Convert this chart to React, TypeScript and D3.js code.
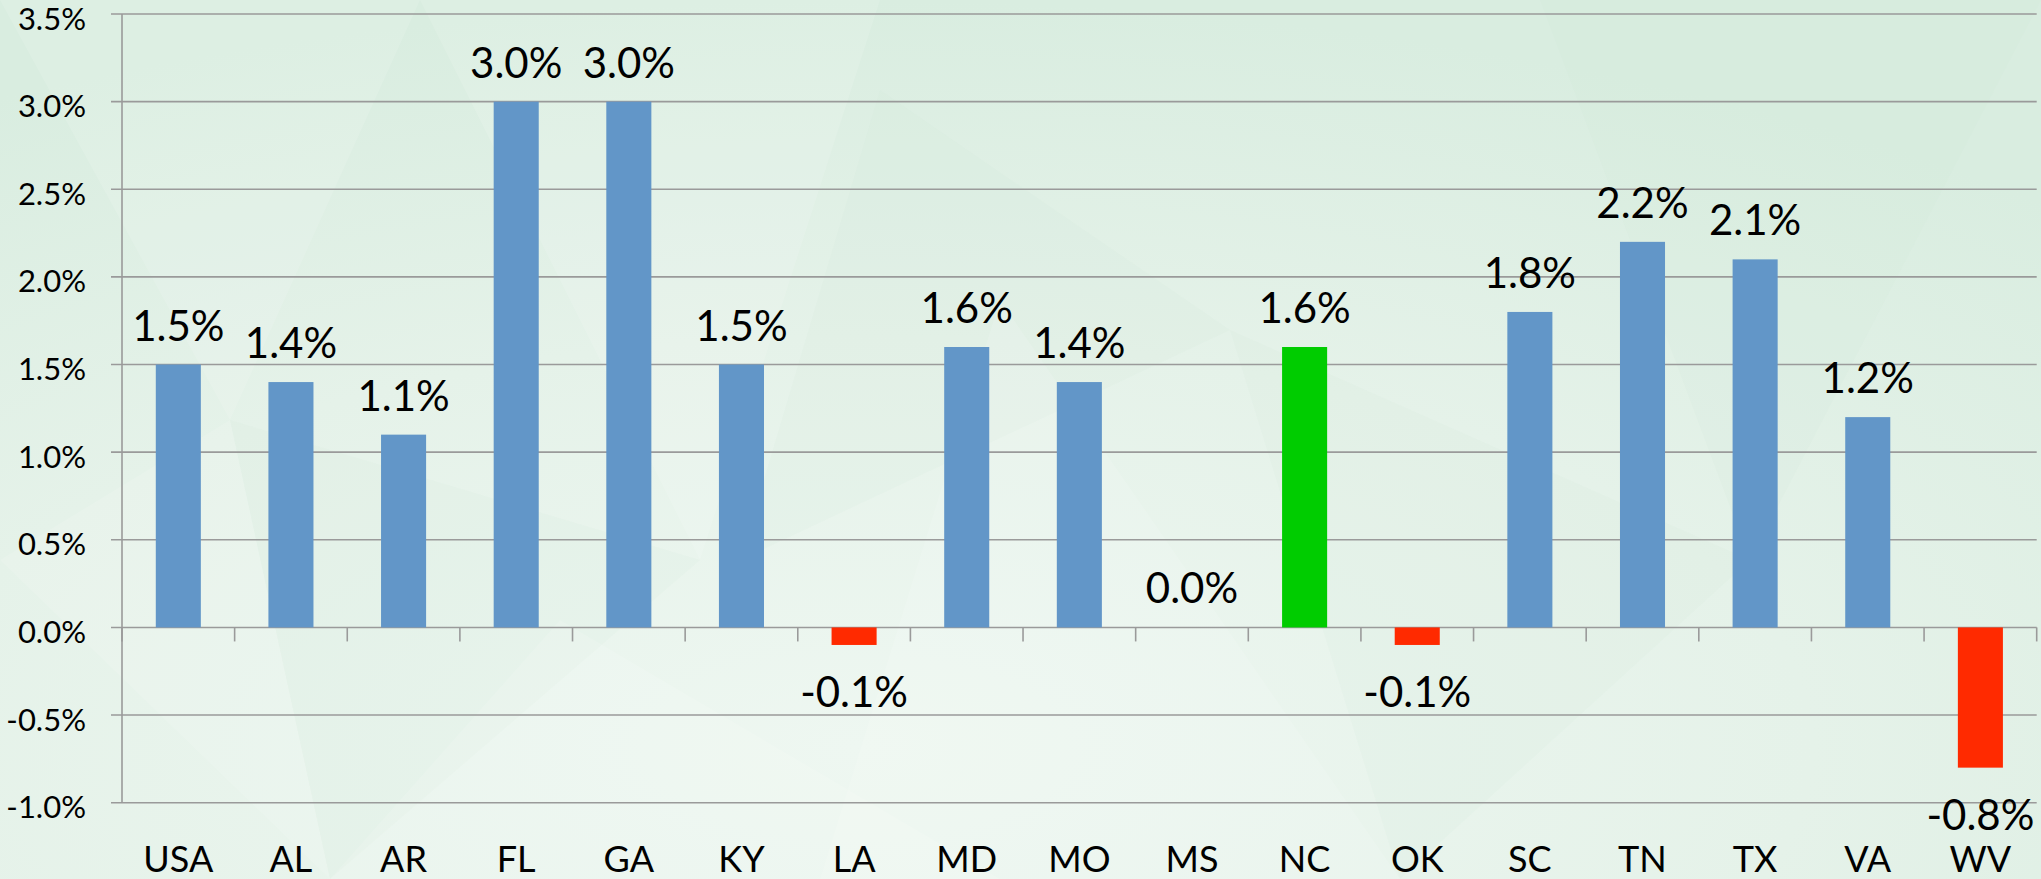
import React, { useEffect } from "react";
import * as d3 from "d3";

const categories = ["USA", "AL", "AR", "FL", "GA", "KY", "LA", "MD", "MO", "MS", "NC", "OK", "SC", "TN", "TX", "VA", "WV"];
const values = [1.5, 1.4, 1.1, 3.0, 3.0, 1.5, -0.1, 1.6, 1.4, 0.0, 1.6, -0.1, 1.8, 2.2, 2.1, 1.2, -0.8];
const highlight = ["NC"];
const yTicks = [-1.0, -0.5, 0.0, 0.5, 1.0, 1.5, 2.0, 2.5, 3.0, 3.5];

const W = 2041;
const H = 879;
const FONT = "Lato, 'Open Sans', 'DejaVu Sans', sans-serif";

export default function App() {
  useEffect(() => {
    document.body.style.margin = "0";
  }, []);

  const left = 122;
  const right = 2036.7;
  const top = 14;
  const bottom = 802.7;

  const x = d3.scaleBand<string>().domain(categories).range([left, right]).paddingInner(0.6).paddingOuter(0.3);
  const y = d3.scaleLinear().domain([-1.0, 3.5]).range([bottom, top]);
  const step = x.step();
  const y0 = y(0);
  const fmt = (v: number) => v.toFixed(1) + "%";

  const colorFor = (c: string, v: number) =>
    highlight.includes(c) ? "#00cc00" : v < 0 ? "#ff2a00" : "#6296c8";

  const tris: [number, number][][] = [
    [[0, 0], [420, 0], [230, 420]],
    [[230, 420], [700, 560], [330, 879]],
    [[420, 0], [880, 0], [700, 560]],
    [[880, 90], [1230, 330], [740, 560]],
    [[1000, 300], [1400, 879], [820, 879]],
    [[1230, 330], [1750, 560], [1400, 879]],
    [[0, 560], [230, 420], [330, 879]],
    [[1540, 0], [2041, 0], [1750, 560]],
    [[560, 620], [1000, 879], [330, 879]],
  ];

  return (
    <svg width={W} height={H} style={{ position: "absolute", left: 0, top: 0, display: "block" }} fontFamily={FONT}>
      <defs>
        <radialGradient id="bg" cx="0.42" cy="0.85" r="0.85">
          <stop offset="0" stopColor="#eef7f1" />
          <stop offset="0.55" stopColor="#e5f2e9" />
          <stop offset="1" stopColor="#d9ede0" />
        </radialGradient>
      </defs>
      <rect x={0} y={0} width={W} height={H} fill="url(#bg)" />
      {tris.map((t, i) => (
        <polygon
          key={i}
          points={t.map((p) => p.join(",")).join(" ")}
          fill={i % 2 === 0 ? "#ffffff" : "#cfe6d6"}
          opacity={0.12}
        />
      ))}

      {/* gridlines */}
      {yTicks.map((t) => (
        <line key={"g" + t} x1={left - 11} x2={right} y1={y(t)} y2={y(t)} stroke="#9a9a9a" strokeWidth={1.6} />
      ))}
      {/* y axis line */}
      <line x1={left} x2={left} y1={top} y2={bottom} stroke="#9a9a9a" strokeWidth={1.6} />
      {/* category ticks */}
      {d3.range(categories.length + 1).map((i) => (
        <line key={"t" + i} x1={left + i * step} x2={left + i * step} y1={y0} y2={y0 + 14} stroke="#9a9a9a" strokeWidth={1.6} />
      ))}

      {/* y tick labels */}
      {yTicks.map((t) => (
        <text key={"yl" + t} x={86} y={y(t) + 15.5} textAnchor="end" fontSize={31} fill="#000">
          {fmt(t)}
        </text>
      ))}

      {/* bars */}
      {categories.map((c, i) => {
        const v = values[i];
        const yt = y(Math.max(0, v));
        const yb = y(Math.min(0, v));
        return (
          <rect key={"b" + c} x={x(c)!} y={yt} width={x.bandwidth()} height={Math.max(0, yb - yt)} fill={colorFor(c, v)} />
        );
      })}

      {/* data labels */}
      {categories.map((c, i) => {
        const v = values[i];
        const cx = x(c)! + x.bandwidth() / 2;
        const ly = v < 0 ? y(v) + 62 : y(v) - 24;
        return (
          <text key={"dl" + c} x={cx} y={ly} textAnchor="middle" fontSize={42} fill="#000">
            {fmt(v)}
          </text>
        );
      })}

      {/* category labels */}
      {categories.map((c) => (
        <text key={"cl" + c} x={x(c)! + x.bandwidth() / 2} y={872} textAnchor="middle" fontSize={36} fill="#000">
          {c}
        </text>
      ))}
    </svg>
  );
}
